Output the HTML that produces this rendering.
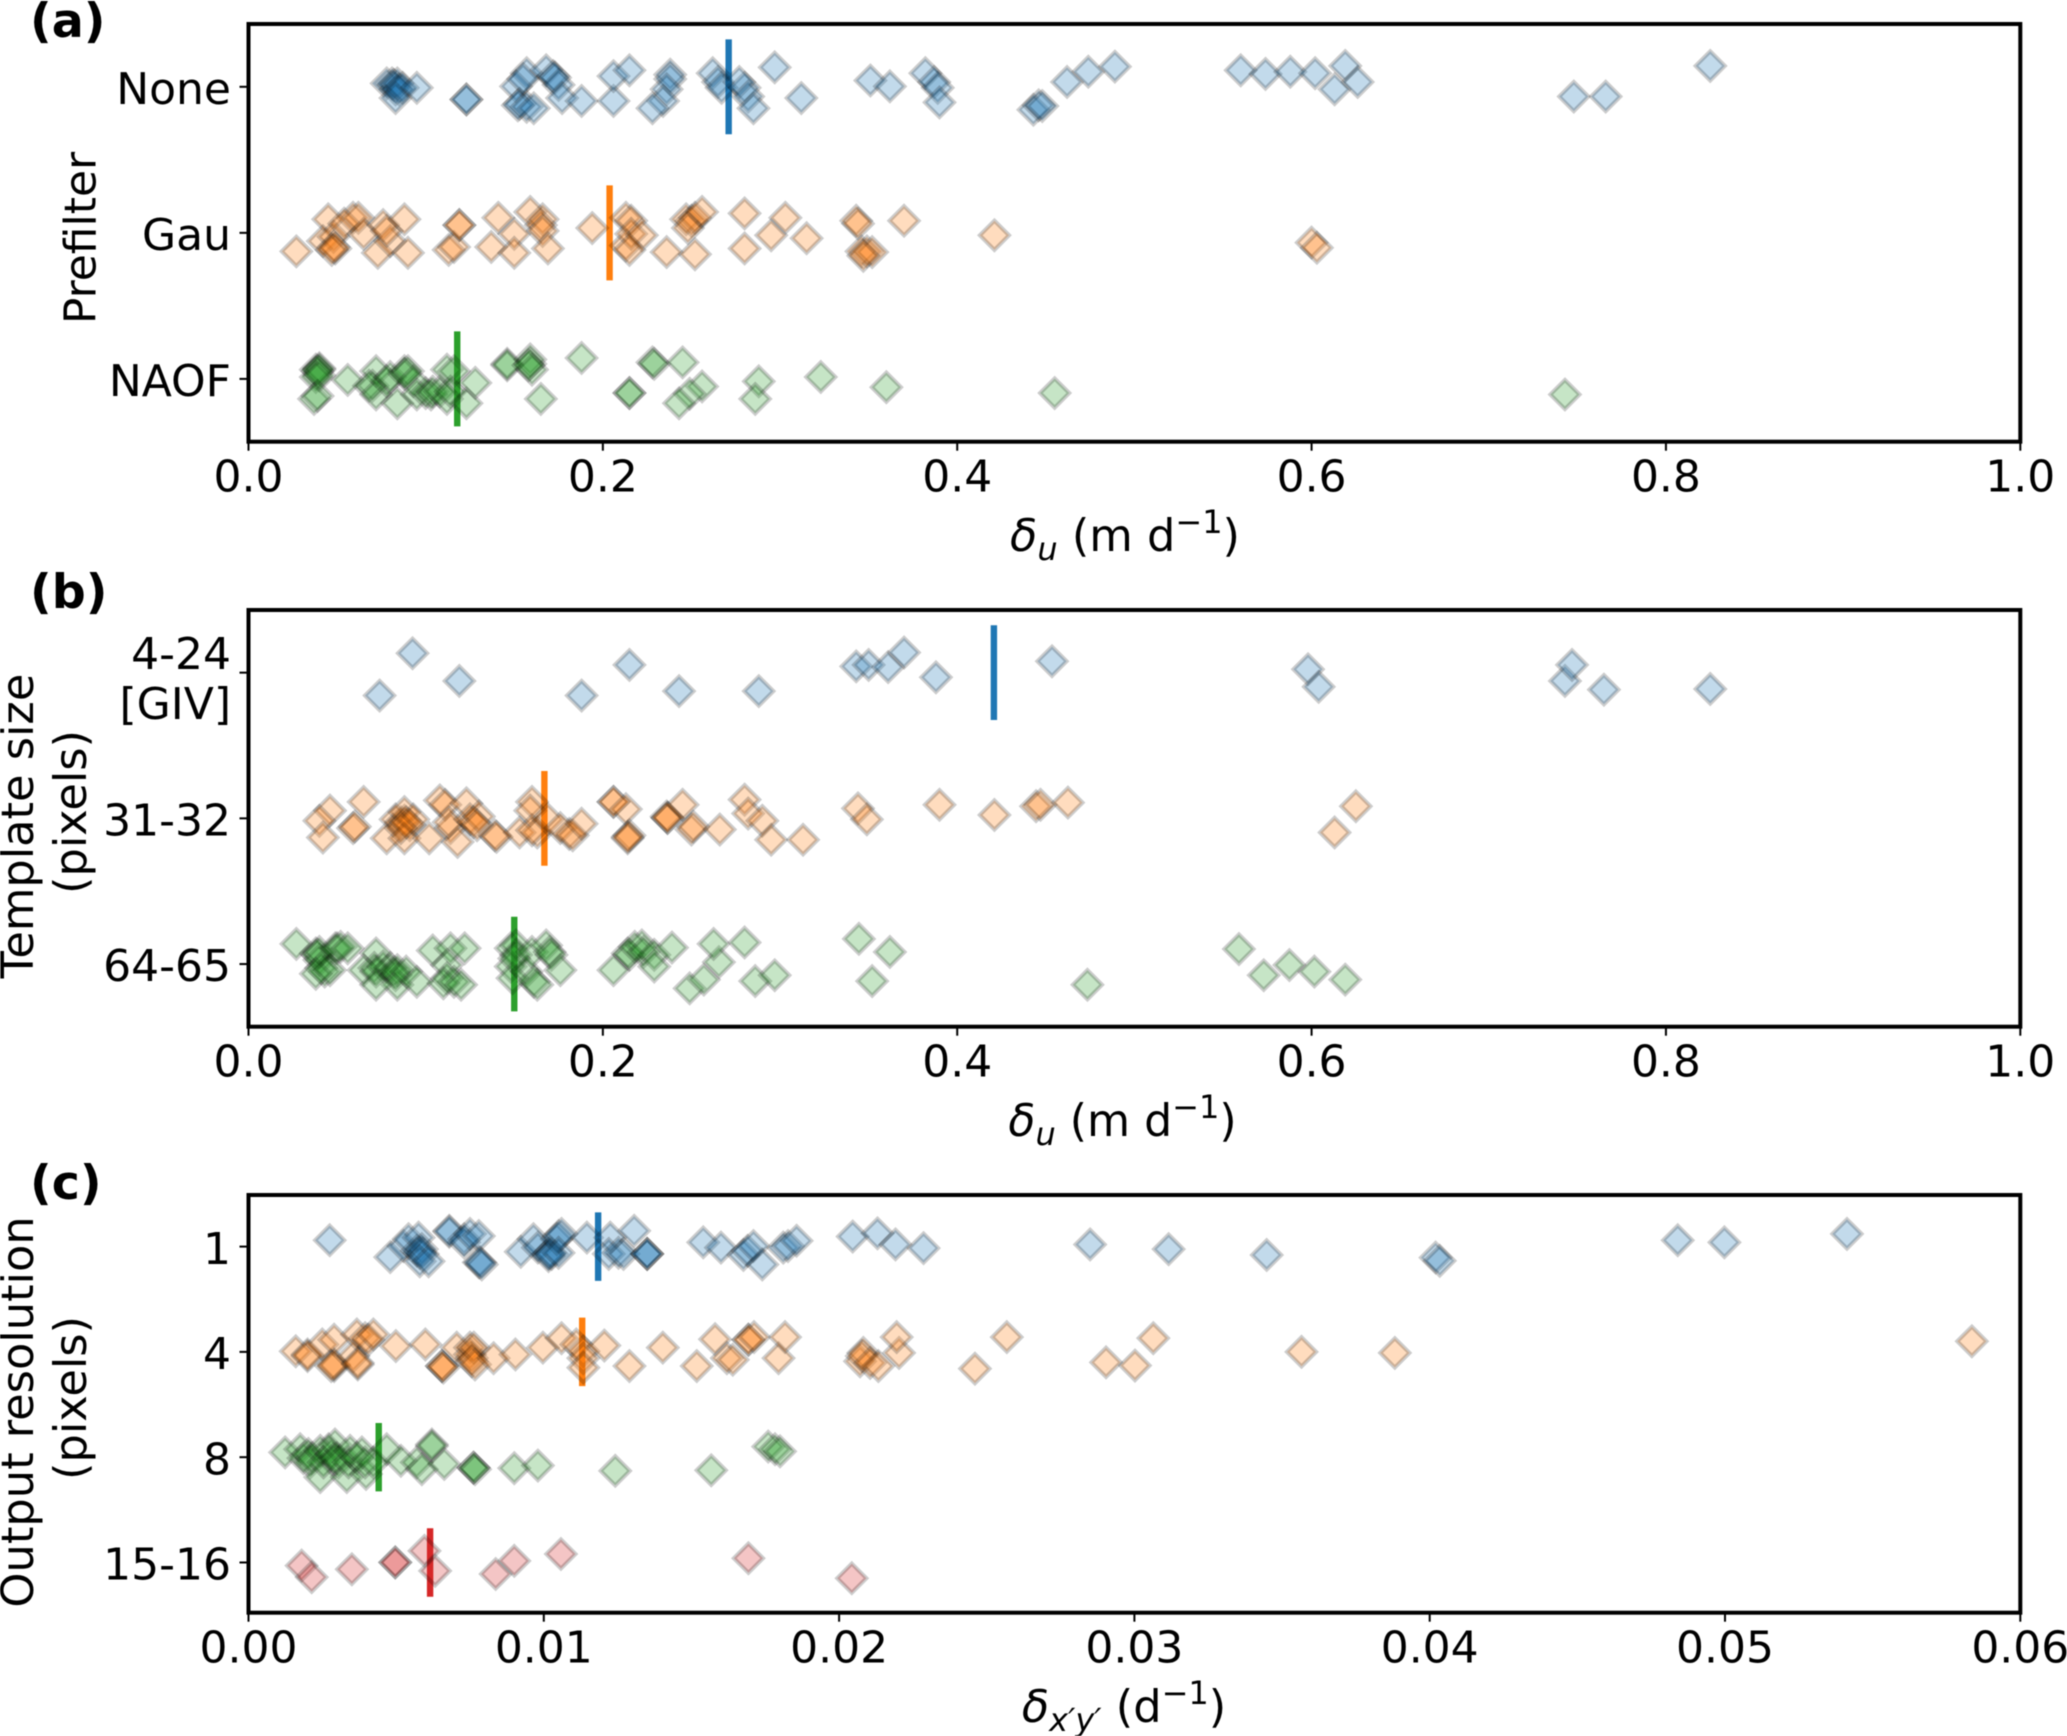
<!DOCTYPE html>
<html lang="en">
<head>
<meta charset="utf-8">
<title>Error statistics by prefilter, template size and output resolution</title>
<style>
html,body{margin:0;padding:0;background:#fff;}
svg{display:block;font-family:"DejaVu Sans","Liberation Sans",sans-serif;fill:#000;filter:blur(0.55px);}
.tick{font-size:44px;}
.lab{font-size:44.7px;}
.pl{font-size:47.5px;font-weight:bold;}
</style>
</head>
<body>
<svg id="fig" xmlns="http://www.w3.org/2000/svg" width="2067" height="1736" viewBox="0 0 2067 1736">
<rect width="2067" height="1736" fill="#fff"/>
<text class="pl" x="30" y="37">(a)</text>
<text class="pl" x="30" y="608">(b)</text>
<text class="pl" x="30" y="1199">(c)</text>

<text class="lab" style="font-size:44px" text-anchor="middle" transform="translate(95.5,238) rotate(-90)">Prefilter</text>
<text class="lab" text-anchor="middle" transform="translate(33,826) rotate(-90)">Template size</text>
<text class="lab" text-anchor="middle" transform="translate(86,812) rotate(-90)">(pixels)</text>
<text class="lab" text-anchor="middle" transform="translate(33,1412) rotate(-90)">Output resolution</text>
<text class="lab" text-anchor="middle" transform="translate(86,1398) rotate(-90)">(pixels)</text>

<text class="lab" text-anchor="middle" x="1125" y="551"><tspan font-style="italic">δ</tspan><tspan font-style="italic" font-size="32" dy="9">u</tspan><tspan dy="-9"> (m d</tspan><tspan font-size="32" dy="-18">−1</tspan><tspan dy="18">)</tspan></text>
<text class="lab" style="font-size:44.2px" text-anchor="middle" x="1122.5" y="1136"><tspan font-style="italic">δ</tspan><tspan font-style="italic" font-size="32" dy="9">u</tspan><tspan dy="-9"> (m d</tspan><tspan font-size="32" dy="-18">−1</tspan><tspan dy="18">)</tspan></text>
<text class="lab" text-anchor="middle" x="1124" y="1722"><tspan font-style="italic">δ</tspan><tspan font-style="italic" font-size="32" dy="9">x′y′</tspan><tspan dy="-9"> (d</tspan><tspan font-size="32" dy="-18">−1</tspan><tspan dy="18">)</tspan></text>
</svg>
<script>
// ---------- Panel (a): prefilter ----------
const aCategories = ["None","Gau","NAOF"];
const aXTicks = ["0.0","0.2","0.4","0.6","0.8","1.0"];
const aMeans = [0.271,0.2038,0.1178];
const aNoneX = [.078,.081,.082,.083,.084,.085,.087,.083,.095,.123,.123,.157,.151,.155,.168,.172,.173,.175,.153,.152,.157,.161,.177,.188,.206,.206,.215,.238,.238,.236,.234,.228,.262,.265,.267,.28,.277,.282,.285,.297,.312,.351,.362,.382,.387,.389,.39,.443,.446,.448,.462,.474,.489,.56,.574,.588,.602,.613,.619,.626,.748,.766,.825];
const aNoneJ = [-.03,-.03,-.02,.01,-.03,.01,0,.07,0,.08,.08,-.1,-.01,-.06,-.12,-.08,-.07,-.02,.11,.12,.13,.14,.07,.09,.09,-.08,-.12,-.09,-.06,.01,.09,.14,-.1,-.04,0,0,-.04,.06,.14,-.14,.07,-.05,-.01,-.1,-.04,0,.1,.15,.12,.125,-.04,-.11,-.145,-.12,-.095,-.11,-.1,.01,-.15,-.04,.06,.06,-.15];
const aGauX = [.027,.045,.042,.048,.048,.049,.047,.059,.054,.062,.065,.073,.076,.08,.078,.088,.09,.113,.116,.119,.119,.141,.137,.15,.15,.159,.166,.165,.166,.169,.194,.213,.216,.213,.216,.222,.215,.236,.252,.247,.25,.252,.256,.248,.28,.28,.295,.303,.315,.343,.344,.346,.349,.352,.347,.37,.421,.6,.603];
const aGauJ = [.12,-.1,.05,.02,.09,.1,.11,-.11,-.07,-.11,0,.13,-.06,.05,-.02,-.1,.13,.11,.09,-.06,-.06,-.11,.09,0,.13,-.15,-.1,-.06,-.02,.1,-.04,-.11,-.09,.08,0,.01,.11,.125,.14,-.1,-.09,-.11,-.15,-.04,-.14,.1,.01,-.11,.03,-.09,-.07,.12,.12,.125,.15,-.09,.01,.06,.095];
const aNaofX = [.038,.04,.04,.039,.038,.04,.037,.039,.056,.072,.07,.068,.072,.084,.078,.08,.088,.088,.09,.093,.095,.1,.103,.104,.108,.112,.112,.116,.114,.123,.128,.146,.146,.159,.159,.16,.158,.165,.188,.215,.215,.228,.229,.245,.256,.249,.243,.288,.286,.323,.36,.455,.743];
const aNaofJ = [-.07,-.08,-.07,-.06,-.02,-.03,.13,.11,0,-.06,.04,.04,.1,.16,.01,-.02,-.06,-.04,-.06,.01,.1,.09,.1,.08,.08,.13,-.07,-.06,.08,.16,.02,-.11,-.1,-.14,-.11,-.07,-.1,.13,-.15,.09,.09,-.12,-.11,-.12,.045,.095,.16,.01,.13,-.02,.05,.09,.1];

// ---------- Panel (b): template size ----------
const bCategories = ["4-24\n[GIV]","31-32","64-65"];
const bXTicks = ["0.0","0.2","0.4","0.6","0.8","1.0"];
const bMeans = [0.4207,0.167,0.15];
const bGivX = [.0926,.074,.119,.188,.215,.243,.288,.343,.35,.361,.37,.388,.4535,.598,.604,.743,.747,.765,.825];
const bGivJ = [-.14,.15,.05,.15,-.06,.12,.12,-.05,-.06,-.045,-.145,.025,-.085,-.03,.09,.05,-.06,.11,.105];
const bMidX = [.046,.04,.042,.065,.059,.06,.078,.083,.086,.088,.088,.089,.091,.088,.093,.086,.102,.108,.111,.114,.118,.113,.123,.125,.127,.13,.129,.139,.14,.153,.16,.159,.163,.16,.169,.176,.181,.183,.188,.206,.206,.213,.215,.214,.214,.236,.2365,.2365,.245,.25,.251,.266,.28,.282,.29,.295,.313,.344,.349,.39,.421,.4445,.447,.4625,.613,.625];
const bMidJ = [-.06,.01,.125,-.12,.06,.05,.13,0,.02,.01,-.05,.02,.04,.13,0,.06,.13,-.13,-.1,.06,.155,.02,-.11,0,.02,-.02,.04,.11,.12,.09,-.12,-.06,.09,.075,0,.06,.1,.11,.03,-.12,-.12,-.07,.11,.12,.13,-.02,-.01,-.01,-.1,.07,.05,.07,-.135,-.04,.01,.14,.14,-.075,0,-.1,-.03,-.09,-.1,-.115,.09,-.09];
const bLargeX = [.027,.038,.039,.04,.04,.041,.043,.038,.049,.05,.052,.056,.046,.072,.065,.071,.072,.076,.08,.082,.084,.083,.084,.072,.089,.095,.104,.114,.122,.112,.112,.11,.116,.12,.148,.151,.151,.148,.149,.15,.157,.16,.161,.163,.168,.17,.171,.176,.206,.214,.215,.218,.222,.223,.229,.229,.239,.249,.257,.2655,.2625,.28,.286,.297,.3445,.362,.352,.4735,.559,.573,.5875,.6016,.619];
const bLargeJ = [-.145,-.08,-.07,-.035,-.09,.02,.045,.06,-.115,-.115,-.125,-.115,.035,-.08,.035,.02,.045,.01,.02,.045,.035,.07,.135,.135,.045,.115,-.1,-.115,-.115,0,.09,.125,.115,.135,-.115,-.135,-.07,.01,.09,-.045,.045,-.09,.115,.135,-.135,-.09,-.07,.035,.035,-.08,-.07,-.125,-.135,-.09,-.07,.01,-.12,.16,.1,-.02,-.145,-.155,.11,.07,-.18,-.09,.11,.135,-.11,.07,0,.045,.1];

// ---------- Panel (c): output resolution ----------
const cCategories = ["1","4","8","15-16"];
const cXTicks = ["0.00","0.01","0.02","0.03","0.04","0.05","0.06"];
const cMeans = [0.01184,0.0113,0.00441,0.00615];
const cOneX = [.00275,.0048,.00525,.00542,.00576,.0057,.0058,.00587,.0059,.0058,.0061,.0068,.0068,.0073,.0073,.0075,.0078,.0078,.00785,.0079,.00922,.00965,.0098,.01016,.0102,.01027,.01016,.01044,.0105,.0106,.0105,.01146,.01225,.0122,.01253,.0127,.01306,.0135,.0135,.0135,.0154,.016,.01676,.0169,.0171,.0174,.01811,.01827,.01856,.02046,.0213,.02191,.02286,.0285,.03116,.03448,.0402,.04034,.0484,.04998,.05413];
const cOneJ = [-.07,.09,-.015,-.08,-.095,.03,.05,.015,.06,.13,.13,-.16,-.15,-.08,-.05,-.13,-.11,.14,.14,.16,.04,-.08,0,.06,.05,.06,.08,-.08,-.11,-.13,.05,-.095,-.095,.06,.05,.06,-.16,.06,.06,.06,-.05,0,.07,.03,-.015,.16,0,-.015,-.065,-.105,-.135,-.03,.005,-.03,.015,.07,.095,.125,-.07,-.05,-.13];
const cFourX = [.0016,.002,.002,.0025,.0029,.0029,.0029,.0028,.00355,.00367,.0037,.0037,.00395,.00406,.00423,.00499,.00599,.00655,.00655,.0066,.00705,.0075,.0075,.00756,.00763,.00756,.00767,.0083,.00904,.00997,.0106,.0111,.01134,.01134,.01134,.01205,.0129,.01403,.01518,.0158,.0162,.0164,.01693,.01693,.01712,.01795,.01817,.02071,.02082,.02077,.02105,.02133,.02203,.02195,.0246,.02568,.02904,.03002,.03064,.03566,.03882,.05836];
const cFourJ = [-.015,.015,.03,-.08,-.125,.125,.11,.125,.03,-.175,.11,.095,-.14,-.125,-.175,-.065,-.08,.125,.125,.14,-.05,-.05,.015,.05,-.05,.08,.11,.05,.015,-.05,-.14,-.08,-.015,.05,.14,-.07,.125,-.05,.125,-.13,.05,.065,-.125,-.125,-.15,.05,-.15,.08,0,.03,.095,.125,0,-.15,.15,-.15,.09,.12,-.14,-.01,0,-.11];
const cEightX = [.00124,.00175,.00186,.00203,.00214,.00209,.00243,.00243,.00254,.00271,.00293,.0028,.00288,.00299,.00305,.00333,.00339,.00344,.00367,.00384,.00398,.00395,.00423,.00468,.00516,.0057,.00587,.00621,.00621,.00663,.00762,.00762,.00767,.009,.0098,.01242,.01567,.0176,.01783,.018];
const cEightJ = [-.055,-.085,0,-.04,0,.04,-.07,.18,.04,-.085,-.13,-.04,.01,0,.04,.18,.04,-.07,0,-.055,.15,.04,.04,-.085,.025,.04,.105,-.13,-.115,.055,.09,.09,.105,.095,.07,.12,.115,-.11,-.085,-.065];
const cFifteenX = [.0018,.00214,.0035,.00497,.00497,.00596,.00632,.00837,.009,.01058,.01693,.02043];
const cFifteenJ = [.02,.13,.055,-.01,-.01,-.12,.07,.1,-.025,-.09,-.05,.14];

const palette = ["#1f77b4","#ff7f0e","#2ca02c","#d62728"];
const seriesNames = {a:["none","gau","naof"],b:["4-24-giv","31-32","64-65"],c:["1","4","8","15-16"]};

const svg = document.getElementById('fig');
const NS = 'http://www.w3.org/2000/svg';

function make(tag, attrs, parent){
  const el = document.createElementNS(NS, tag);
  for(const k in attrs){ el.setAttribute(k, attrs[k]); }
  (parent||svg).appendChild(el);
  return el;
}

function drawPanel(id, box, xMax, yMin, yMax, categories, xTicks, xs, js, means){
  const xScale = v => box.left + (v/xMax)*(box.right-box.left);
  const yScale = v => box.top + ((v-yMin)/(yMax-yMin))*(box.bottom-box.top);
  const halfBar = 0.325;
  const size = 14.6;

  // x ticks
  xTicks.forEach(t => {
    const px = xScale(parseFloat(t));
    const m = make('line',{x1:px,x2:px,y1:box.bottom,y2:box.bottom+9,stroke:'#000','stroke-width':2});
    
    
    const l = make('text',{class:'tick',x:px,y:box.bottom+50,'text-anchor':'middle'});
    l.textContent = t;
    
    
  });

  // y ticks
  categories.forEach((c,i) => {
    const py = yScale(i);
    const m = make('line',{x1:box.left-9,x2:box.left,y1:py,y2:py,stroke:'#000','stroke-width':2});
    
    
    const lines = c.split('\n');
    const first = py + 17.2 - (lines.length-1)*21;
    lines.forEach((s,k) => {
      const l = make('text',{class:'tick',x:231,y:first+k*50,'text-anchor':'end'});
      l.textContent = s;
      
      
    });
  });

  // series
  xs.forEach((seriesX,s) => {
    const g = make('g',{});
    
    
    const bar = make('line',{x1:xScale(means[s]),x2:xScale(means[s]),y1:yScale(s-halfBar),y2:yScale(s+halfBar),stroke:palette[s],'stroke-width':6.4},g);
    
    
    seriesX.forEach((v,i) => {
      const cx = xScale(v), cy = yScale(s+js[s][i]) + 1;
      const pts = [[cx,cy-size],[cx+size,cy],[cx,cy+size],[cx-size,cy]].map(p=>p[0].toFixed(2)+','+p[1].toFixed(2)).join(' ');
      const d = make('polygon',{points:pts,fill:palette[s],'fill-opacity':0.27,stroke:'#000','stroke-opacity':0.2,'stroke-width':4},g);
      
      
    });
  });

  // frame
  const f = make('rect',{x:box.left,y:box.top,width:box.right-box.left,height:box.bottom-box.top,fill:'none',stroke:'#000','stroke-width':4});
  
  
}

drawPanel('a',{left:248.5,right:2020.3,top:24,bottom:441.7},1,-0.43,2.43,aCategories,aXTicks,[aNoneX,aGauX,aNaofX],[aNoneJ,aGauJ,aNaofJ],aMeans);
drawPanel('b',{left:248.5,right:2020.3,top:610,bottom:1026.7},1,-0.43,2.43,bCategories,bXTicks,[bGivX,bMidX,bLargeX],[bGivJ,bMidJ,bLargeJ],bMeans);
drawPanel('c',{left:248.5,right:2020.3,top:1195,bottom:1612.7},0.06,-0.49,3.477,cCategories,cXTicks,[cOneX,cFourX,cEightX,cFifteenX],[cOneJ,cFourJ,cEightJ,cFifteenJ],cMeans);
</script>
</body>
</html>
